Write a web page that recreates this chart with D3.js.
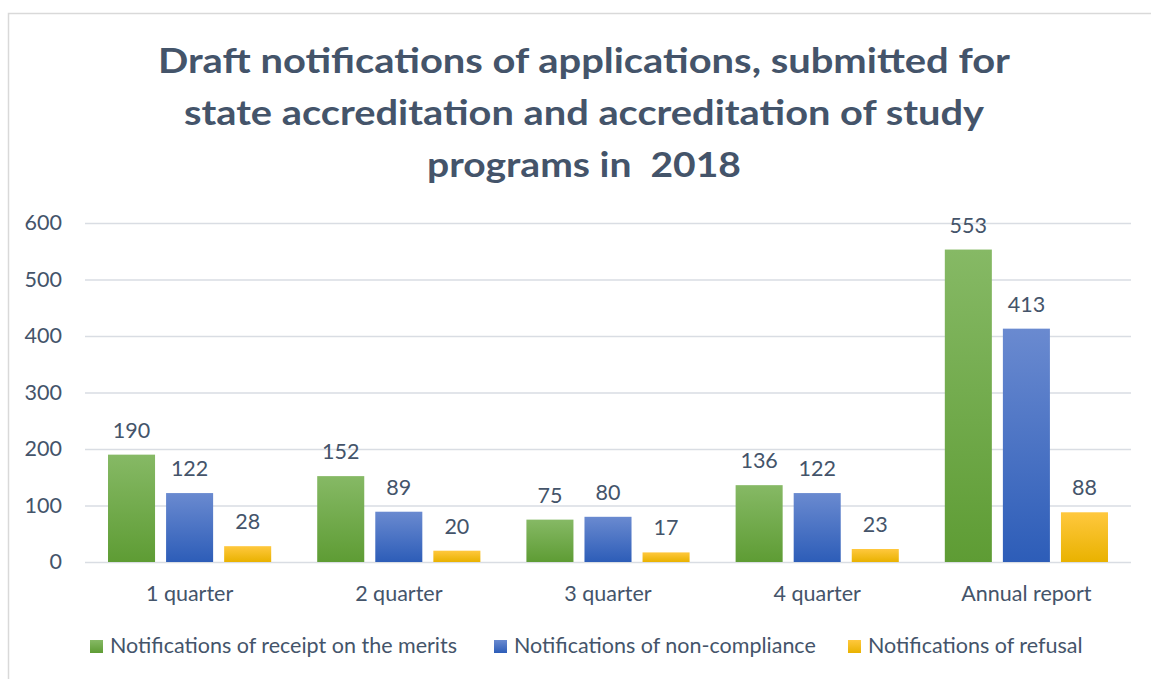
<!DOCTYPE html>
<html>
<head>
<meta charset="utf-8">
<script src="https://cdn.jsdelivr.net/npm/d3@7"></script>
<style>
  body { margin: 0; background: #fff; }
  text { font-family: Lato, "Open Sans", sans-serif; }
</style>
</head>
<body>
<div id="chart"></div>
<script>
// Chart data
const categories = ["1 quarter", "2 quarter", "3 quarter", "4 quarter", "Annual report"];
const seriesNames = ["Notifications of receipt on the merits", "Notifications of non-compliance", "Notifications of refusal"];
const receiptValues = [190, 152, 75, 136, 553];
const nonComplianceValues = [122, 89, 80, 122, 413];
const refusalValues = [28, 20, 17, 23, 88];
const yTicks = [0, 100, 200, 300, 400, 500, 600];
const titleLines = ["Draft notifications of applications, submitted for", "state accreditation and accreditation of study", "programs in  2018"];

const WIDTH = 1151;
const HEIGHT = 679;
const MARGIN = { left: 85, right: 20, top: 223, bottom: 117 };
const TEXT_COLOR = "#44546A";
const FONT = "Lato, 'Open Sans', sans-serif";
const LABEL_SIZE = 21.5;
const GRADIENTS = [
    ["#86B965", "#5E9C34"],
    ["#6A8AD0", "#2D5DB8"],
    ["#FFC83E", "#E9B200"]
];
// measured widths of the title lines in the original
const TITLE_WIDTHS = [852, 800, 314];

const svg = d3.select("#chart").append("svg")
    .attr("width", WIDTH)
    .attr("height", HEIGHT);

// Gradients for bars and legend swatches
const defs = svg.append("defs");
GRADIENTS.forEach((g, i) => {
    const lg = defs.append("linearGradient")
        .attr("id", `grad${i}`)
        .attr("x1", 0).attr("y1", 0).attr("x2", 0).attr("y2", 1);
    lg.append("stop").attr("offset", "0%").attr("stop-color", g[0]);
    lg.append("stop").attr("offset", "100%").attr("stop-color", g[1]);
});

// Outer frame
svg.append("rect")
    .attr("x", 8.5).attr("y", 13.5)
    .attr("width", WIDTH + 20).attr("height", HEIGHT + 20)
    .attr("fill", "none")
    .attr("stroke", "#D9D9D9")
    .attr("stroke-width", 1.5);

// Title
svg.append("g").selectAll("text")
    .data(titleLines)
    .join("text")
    .attr("x", 584)
    .attr("y", (d, i) => 73 + i * 52)
    .attr("text-anchor", "middle")
    .attr("font-size", 35)
    .attr("font-weight", "bold")
    .attr("fill", TEXT_COLOR)
    .attr("textLength", (d, i) => TITLE_WIDTHS[i])
    .attr("lengthAdjust", "spacingAndGlyphs")
    .style("white-space", "pre")
    .text(d => d);

const plotWidth = WIDTH - MARGIN.left - MARGIN.right;
const plotHeight = HEIGHT - MARGIN.top - MARGIN.bottom;

const g = svg.append("g").attr("transform", `translate(${MARGIN.left},${MARGIN.top})`);

const x0 = d3.scaleBand()
    .domain(categories)
    .range([0, plotWidth])
    .paddingInner(0.22)
    .paddingOuter(0.11);

const x1 = d3.scaleBand()
    .domain(d3.range(seriesNames.length))
    .range([0, x0.bandwidth()])
    .paddingInner(0.19);

const y = d3.scaleLinear()
    .domain([0, 600])
    .range([plotHeight, 0]);

// Gridlines
g.append("g")
    .attr("class", "grid")
    .call(d3.axisLeft(y).tickValues(yTicks).tickSize(-plotWidth).tickFormat(""))
    .call(s => s.select(".domain").remove())
    .call(s => s.selectAll("line").attr("stroke", "#D9DDE3").attr("stroke-width", 1.5));

// Y axis labels
g.append("g")
    .attr("class", "y-axis")
    .call(d3.axisLeft(y).tickValues(yTicks).tickSize(0).tickPadding(23))
    .call(s => s.select(".domain").remove())
    .call(s => s.selectAll("text")
        .attr("font-size", LABEL_SIZE)
        .attr("fill", TEXT_COLOR)
        .style("font-family", FONT));

// X axis labels
g.append("g")
    .attr("class", "x-axis")
    .attr("transform", `translate(0, ${plotHeight})`)
    .call(d3.axisBottom(x0).tickSize(0).tickPadding(24))
    .call(s => s.select(".domain").remove())
    .call(s => s.selectAll("text")
        .attr("font-size", LABEL_SIZE)
        .attr("fill", TEXT_COLOR)
        .style("font-family", FONT));

// Bars
const allSeries = [receiptValues, nonComplianceValues, refusalValues];
const rows = categories.map((c, i) => ({ cat: c, vals: allSeries.map(s => s[i]) }));

const groups = g.append("g").selectAll("g")
    .data(rows)
    .join("g")
    .attr("transform", d => `translate(${x0(d.cat)},0)`);

groups.selectAll("rect")
    .data(d => d.vals.map((v, k) => ({ k, v })))
    .join("rect")
    .attr("x", d => x1(d.k))
    .attr("y", d => y(d.v))
    .attr("width", x1.bandwidth())
    .attr("height", d => plotHeight - y(d.v))
    .attr("fill", d => `url(#grad${d.k})`);

// Data labels
groups.selectAll("text")
    .data(d => d.vals.map((v, k) => ({ k, v })))
    .join("text")
    .attr("x", d => x1(d.k) + x1.bandwidth() / 2)
    .attr("y", d => y(d.v) - 17)
    .attr("text-anchor", "middle")
    .attr("font-size", LABEL_SIZE)
    .attr("fill", TEXT_COLOR)
    .text(d => d.v);

// Legend
const legendX = [90, 494, 848];
const legend = svg.append("g").selectAll("g")
    .data(seriesNames)
    .join("g")
    .attr("transform", (d, i) => `translate(${legendX[i]}, 640)`);

legend.append("rect")
    .attr("y", 0)
    .attr("width", 13).attr("height", 13)
    .attr("fill", (d, i) => `url(#grad${i})`);

legend.append("text")
    .attr("x", 20)
    .attr("y", 13)
    .attr("font-size", LABEL_SIZE)
    .attr("fill", TEXT_COLOR)
    .text(d => d);
</script>
</body>
</html>
